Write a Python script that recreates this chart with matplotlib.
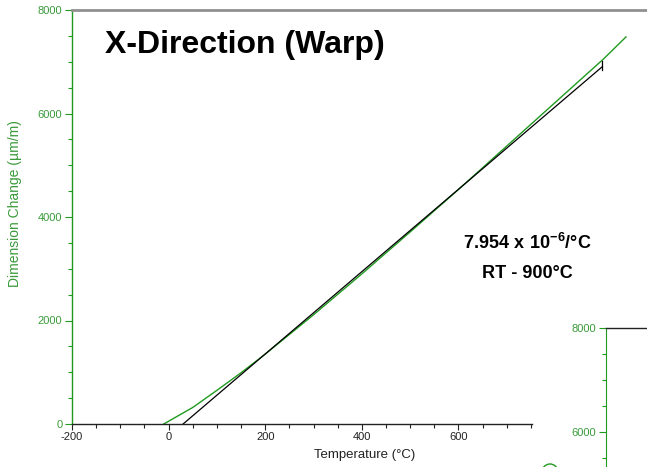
import matplotlib.pyplot as plt
from matplotlib.ticker import MultipleLocator
from matplotlib.patches import Ellipse

plt.rcParams['font.family'] = ['Liberation Sans', 'DejaVu Sans']
plt.rcParams['axes.unicode_minus'] = False
plt.rcParams['mathtext.fontset'] = 'custom'
plt.rcParams['mathtext.rm'] = 'Liberation Sans'
plt.rcParams['mathtext.bf'] = 'Liberation Sans:bold'

temp = [-10, 50, 100, 150, 200, 300, 400, 500, 600, 700, 800, 900, 947]
dim_change = [0, 320, 650, 990, 1350, 2110, 2900, 3710, 4530, 5370, 6210, 7050, 7480]

# linear fit RT - 900 (black)
fit_temp = [30, 898]
fit_dim = [0, 6905]
fit_cap = [6840, 7010]

x_ticks = [-200, 0, 200, 400, 600]
y_ticks = [0, 2000, 4000, 6000, 8000]
inset_ticks = [6000, 8000]

green = '#1f9a1f'
label_green = '#3a9a3a'

W, H = 647, 467
fig = plt.figure(figsize=(W / 100, H / 100), dpi=100)

ax = fig.add_axes([72 / W, (H - 424) / H, (W - 72) / W, 414 / H])
ax.set_xlim(-200, -200 + (W - 72) / 0.483)
ax.set_ylim(0, 8000)

ax.plot(temp, dim_change, color=green, lw=1.0)
ax.plot(fit_temp, fit_dim, color='black', lw=0.9)
ax.plot([fit_temp[1], fit_temp[1]], fit_cap, color='black', lw=0.9)

ax.spines['right'].set_visible(False)
ax.spines['top'].set_color('#909090')
ax.spines['top'].set_linewidth(2.0)
ax.spines['left'].set_color(green)
ax.spines['left'].set_linewidth(1.0)
ax.spines['bottom'].set_color('#222222')
ax.spines['bottom'].set_linewidth(1.0)
ax.spines['bottom'].set_bounds(-200, 752)

ax.set_xticks(x_ticks)
ax.set_xticks([t for t in range(-150, 751, 50) if t % 200 != 0], minor=True)
ax.set_yticks(y_ticks)
ax.yaxis.set_minor_locator(MultipleLocator(500))
ax.tick_params(axis='x', which='both', direction='out', colors='#222222',
               labelsize=8, pad=2, length=4, width=0.8)
ax.tick_params(axis='x', which='minor', length=3)
ax.tick_params(axis='y', which='both', direction='out', color=green,
               labelcolor=label_green, labelsize=8, pad=2, width=0.8)
ax.tick_params(axis='y', which='major', length=5)
ax.tick_params(axis='y', which='minor', length=3)

fig.text(365 / W, (H - 455) / H, 'Temperature (°C)', ha='center', va='center',
         fontsize=9.5, color='#222222')
fig.text(15 / W, (H - 204) / H, 'Dimension Change (µm/m)', ha='center', va='center',
         rotation=90, fontsize=10, color=label_green)

fig.text(105 / W, (H - 53) / H, 'X-Direction (Warp)', ha='left', va='baseline',
         fontsize=23, fontweight='bold')
fig.text(527 / W, (H - 243) / H, r'$\mathbf{7.954\ x\ 10^{-6}/°C}$', ha='center',
         va='center', fontsize=13)
fig.text(527 / W, (H - 274) / H, 'RT - 900°C', ha='center', va='center',
         fontsize=13, fontweight='bold')

# partial second chart in the lower right corner
ax2 = fig.add_axes([606 / W, 0, (W - 606) / W, (H - 328) / H])
ax2.set_ylim(8000 - (H - 328) / 0.052, 8000)
ax2.set_xlim(0, 1)
ax2.spines['right'].set_visible(False)
ax2.spines['bottom'].set_visible(False)
ax2.spines['left'].set_color(green)
ax2.spines['top'].set_color('#222222')
ax2.spines['top'].set_linewidth(1.0)
ax2.set_xticks([])
ax2.set_yticks(inset_ticks)
ax2.yaxis.set_minor_locator(MultipleLocator(500))
ax2.tick_params(axis='y', which='both', direction='out', color=green,
                labelcolor=label_green, labelsize=8, pad=2, width=0.8)
ax2.tick_params(axis='y', which='major', length=5)
ax2.tick_params(axis='y', which='minor', length=3)

circle = Ellipse((550 / W, (H - 472) / H), 16 / W, 16 / H, transform=fig.transFigure,
                 fill=False, edgecolor=green, lw=1.0, clip_on=False)
fig.patches.append(circle)

fig.savefig('out.png', dpi=100)
